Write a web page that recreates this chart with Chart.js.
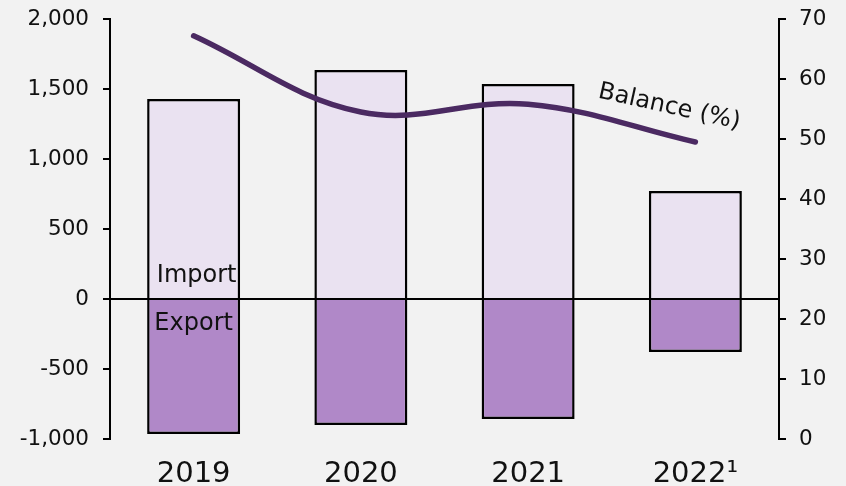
<!DOCTYPE html>
<html>
<head>
<meta charset="utf-8">
<script src="https://cdn.jsdelivr.net/npm/chart.js@4.4.0/dist/chart.umd.min.js"></script>
<style>
  html, body { margin: 0; padding: 0; background: #f2f2f2; }
  canvas { display: block; background: #f2f2f2; }
</style>
</head>
<body>
<canvas id="tradeChart" width="846" height="486"></canvas>
<script>
// Chart values
const years = ['2019', '2020', '2021', '2022\u00b9'];
const importValues = [1428, 1636, 1536, 771];
const exportValues = [-964, -900, -857, -379];
const balancePct = [67.2, 54.5, 55.8, 49.5];
const leftAxisRange = [-1000, 2000, 500];   // min, max, step
const rightAxisRange = [0, 70, 10];

const FONT = "'DejaVu Sans', sans-serif";
const INK = '#111';

// Zero line plus the in-chart labels (Import / Export / Balance (%))
const annotations = {
    id: 'annotations',
    afterDatasetsDraw(chart) {
        const ctx = chart.ctx;
        const area = chart.chartArea;
        const x = chart.scales.x;
        const y = chart.scales.y;
        const y1 = chart.scales.y1;
        const zeroY = y.getPixelForValue(0);

        ctx.save();
        ctx.strokeStyle = '#000';
        ctx.lineWidth = 2;
        ctx.beginPath();
        ctx.moveTo(area.left, zeroY);
        ctx.lineTo(area.right, zeroY);
        ctx.stroke();

        ctx.fillStyle = INK;
        ctx.font = '24px ' + FONT;
        ctx.textAlign = 'center';
        ctx.textBaseline = 'middle';
        const firstX = x.getPixelForValue(0);
        ctx.fillText('Import', firstX + 3, zeroY - 23);
        ctx.fillText('Export', firstX, zeroY + 25);

        const lastIdx = balancePct.length - 1;
        const px = x.getPixelForValue(lastIdx);
        const py = y1.getPixelForValue(balancePct[lastIdx]);
        ctx.translate(px - 26, py - 35);
        ctx.rotate(12.5 * Math.PI / 180);
        ctx.fillText('Balance (%)', 0, 0);
        ctx.restore();
    }
};

// keep the plot area where the reference has it
function fixYAxis(width) {
    return function (scale) {
        scale.width = width;
        scale.paddingTop = 0;
        scale.paddingBottom = 0;
    };
}

const chart = new Chart(document.getElementById('tradeChart'), {
    data: {
        labels: years,
        datasets: [
            {
                type: 'line',
                label: 'Balance (%)',
                data: balancePct,
                yAxisID: 'y1',
                borderColor: '#4b2a62',
                borderWidth: 5.5,
                borderCapStyle: 'round',
                tension: 0.38,
                pointRadius: 0,
                order: 0
            },
            {
                type: 'bar',
                label: 'Import',
                data: importValues,
                yAxisID: 'y',
                backgroundColor: '#eae2f1',
                borderColor: '#000',
                borderWidth: 2.5,
                borderSkipped: 'start',
                categoryPercentage: 1,
                barPercentage: 0.556,
                order: 1
            },
            {
                type: 'bar',
                label: 'Export',
                data: exportValues,
                yAxisID: 'y',
                backgroundColor: '#b088c8',
                borderColor: '#000',
                borderWidth: 2.5,
                borderSkipped: 'start',
                categoryPercentage: 1,
                barPercentage: 0.556,
                order: 1
            }
        ]
    },
    options: {
        responsive: false,
        animation: false,
        layout: { padding: { top: 19, left: 0, right: 0, bottom: 0 } },
        plugins: {
            legend: { display: false },
            tooltip: { enabled: false }
        },
        scales: {
            x: {
                stacked: true,
                grid: { display: false },
                border: { display: false },
                ticks: {
                    color: INK,
                    padding: 10,
                    font: { family: FONT, size: 29 }
                },
                afterFit(scale) { scale.height = 47; }
            },
            y: {
                stacked: true,
                position: 'left',
                min: leftAxisRange[0],
                max: leftAxisRange[1],
                grid: { drawOnChartArea: false, drawTicks: true, tickLength: 7, color: '#000', lineWidth: 2 },
                border: { display: true, color: '#000', width: 2 },
                ticks: {
                    stepSize: leftAxisRange[2],
                    color: INK,
                    padding: 14,
                    font: { family: FONT, size: 21.5 }
                },
                afterFit: fixYAxis(110)
            },
            y1: {
                position: 'right',
                min: rightAxisRange[0],
                max: rightAxisRange[1],
                grid: { drawOnChartArea: false, drawTicks: true, tickLength: 7, color: '#000', lineWidth: 2 },
                border: { display: true, color: '#000', width: 2 },
                ticks: {
                    stepSize: rightAxisRange[2],
                    color: INK,
                    padding: 13,
                    font: { family: FONT, size: 21.5 }
                },
                afterFit: fixYAxis(67)
            }
        }
    },
    plugins: [annotations]
});
</script>
</body>
</html>
